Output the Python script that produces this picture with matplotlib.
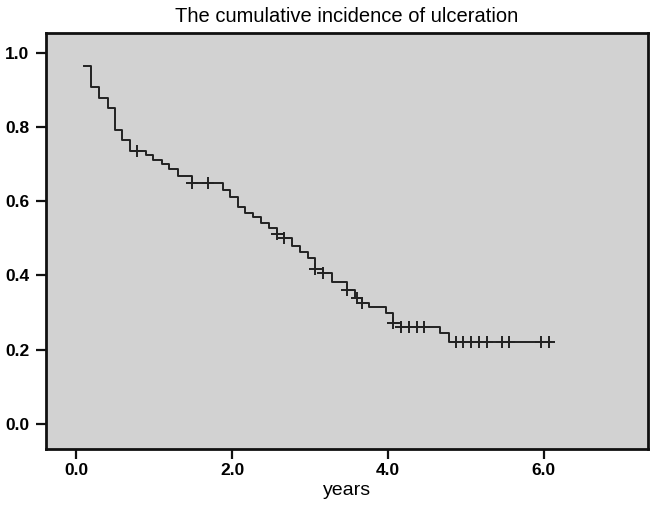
import matplotlib
matplotlib.use('Agg')
import matplotlib.pyplot as plt
import numpy as np

# ---- data ----
start_time = 0.10
start_value = 0.965
event_times = [0.19, 0.29, 0.40, 0.50, 0.59, 0.69, 0.89, 0.99, 1.10, 1.19, 1.30,
               1.49, 1.88, 1.97, 2.07, 2.17, 2.27, 2.37, 2.47, 2.57, 2.67, 2.77,
               2.87, 2.98, 3.07, 3.17, 3.28, 3.47, 3.58, 3.67, 3.76, 3.98, 4.06,
               4.17, 4.67, 4.78]
event_values = [0.907, 0.879, 0.852, 0.791, 0.765, 0.735, 0.724, 0.712, 0.700, 0.686, 0.668,
                0.650, 0.630, 0.610, 0.585, 0.569, 0.556, 0.540, 0.527, 0.512, 0.500, 0.478,
                0.462, 0.447, 0.418, 0.405, 0.383, 0.360, 0.340, 0.326, 0.315, 0.299, 0.272,
                0.261, 0.244, 0.219]
censor_times = [0.78, 1.49, 1.69, 2.57, 2.67, 3.07, 3.17, 3.47, 3.60, 3.67, 4.06, 4.17,
                4.27, 4.37, 4.47, 4.88, 4.97, 5.07, 5.17, 5.27, 5.46, 5.55, 5.97, 6.07]
end_time = 6.10

title = "The cumulative incidence of ulceration"
xlabel = "years"
xticks = [0.0, 2.0, 4.0, 6.0]
yticks = [0.0, 0.2, 0.4, 0.6, 0.8, 1.0]

# ---- build step curve ----
times = np.array([start_time] + event_times + [end_time])
values = np.array([start_value] + event_values + [event_values[-1]])
idx = np.searchsorted(np.array([start_time] + event_times), censor_times, side='right') - 1
censor_values = np.array([start_value] + event_values)[idx]

plt.rcParams['font.family'] = ['Liberation Sans', 'DejaVu Sans']
fig = plt.figure(figsize=(6.51, 5.09), dpi=100)
ax = fig.add_axes([0.0707, 0.118, 0.9246, 0.817])
ax.set_facecolor('#d2d2d2')

ax.step(times, values, where='post', color='#222222', lw=1.4)
ax.plot(censor_times, censor_values, linestyle='none', marker='+',
        markersize=8, mew=1.4, color='#222222')

ax.set_xlim(-0.39, 7.34)
ax.set_ylim(-0.068, 1.053)
ax.set_xticks(xticks)
ax.set_xticklabels([f"{v:.1f}" for v in xticks])
ax.set_yticks(yticks)
ax.set_yticklabels([f"{v:.1f}" for v in yticks])
for s in ax.spines.values():
    s.set_linewidth(2.0)
    s.set_color('#111111')
ax.tick_params(axis='both', direction='out', length=7, width=1.6, color='#111111',
               labelsize=12.5)
ax.tick_params(axis='x', pad=3)
ax.tick_params(axis='y', pad=5)
for lab in ax.get_xticklabels() + ax.get_yticklabels():
    lab.set_fontweight('bold')
ax.set_xlabel(xlabel, fontsize=14, labelpad=3)
ax.set_title(title, fontsize=14.5, pad=8)

fig.savefig('out.png', dpi=100, facecolor='white')
